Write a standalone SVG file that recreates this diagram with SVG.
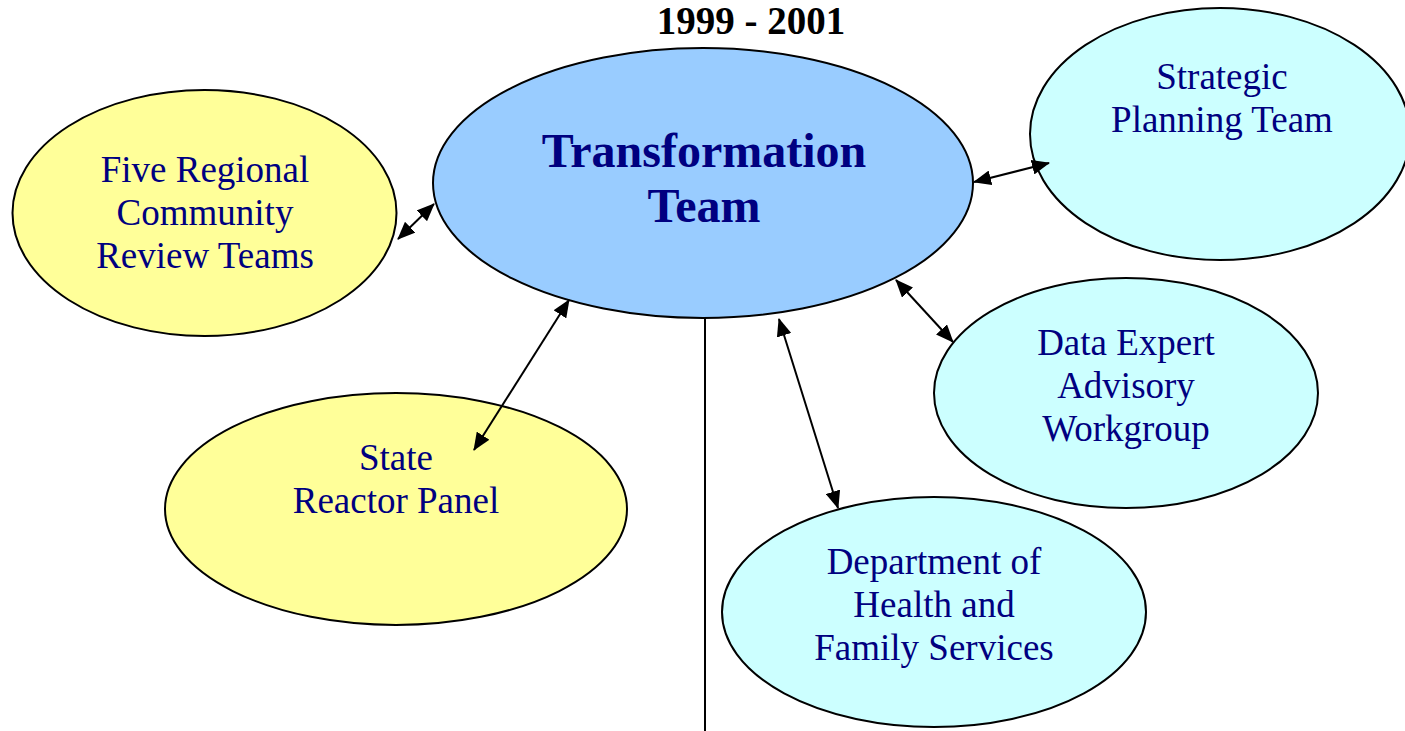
<svg xmlns="http://www.w3.org/2000/svg" width="1405" height="731" viewBox="0 0 1405 731">
<style>
.n{stroke:#000;stroke-width:2}
.y{fill:#FFFF99}.b{fill:#99CCFF}.c{fill:#CCFFFF}
.t{font-family:"Liberation Serif","Times New Roman",serif;font-size:37px;fill:#000080;text-anchor:middle}
.big{font-size:48px;font-weight:bold}
.h{font-family:"Liberation Serif","Times New Roman",serif;font-size:39px;font-weight:bold;fill:#000;text-anchor:middle}
.e{stroke:#000;stroke-width:2;fill:none;marker-start:url(#a);marker-end:url(#a)}
</style>
<defs>
<marker id="a" markerUnits="userSpaceOnUse" markerWidth="18" markerHeight="15" viewBox="0 0 18 15" refX="17" refY="7.5" orient="auto-start-reverse">
<path d="M0,0 L18,7.5 L0,15 Z" fill="#000"/>
</marker>
</defs>
<rect width="1405" height="731" fill="#fff"/>
<text class="h" x="751" y="34">1999 - 2001</text>
<g id="transformation">
<ellipse class="n b" cx="703" cy="183" rx="270" ry="135"/>
<text class="t big" x="704" y="167">Transformation</text>
<text class="t big" x="704" y="222">Team</text>
</g>
<g id="five-regional">
<ellipse class="n y" cx="204.5" cy="213" rx="192" ry="123"/>
<text class="t" x="205" y="182">Five Regional</text>
<text class="t" x="205" y="225">Community</text>
<text class="t" x="205" y="268">Review Teams</text>
</g>
<g id="strategic">
<ellipse class="n c" cx="1220" cy="134" rx="190" ry="126"/>
<text class="t" x="1222" y="89">Strategic</text>
<text class="t" x="1222" y="132">Planning Team</text>
</g>
<g id="data-expert">
<ellipse class="n c" cx="1126" cy="393" rx="192" ry="115"/>
<text class="t" x="1126" y="355">Data Expert</text>
<text class="t" x="1126" y="398">Advisory</text>
<text class="t" x="1126" y="441">Workgroup</text>
</g>
<g id="state-reactor">
<ellipse class="n y" cx="396" cy="509" rx="231" ry="116"/>
<text class="t" x="396" y="470">State</text>
<text class="t" x="396" y="513">Reactor Panel</text>
</g>
<g id="dhfs">
<ellipse class="n c" cx="934" cy="612" rx="212" ry="115"/>
<text class="t" x="934" y="574">Department of</text>
<text class="t" x="934" y="617">Health and</text>
<text class="t" x="934" y="660">Family Services</text>
</g>
<g id="connectors">
<line class="e" x1="398" y1="239" x2="434" y2="204"/>
<line class="e" x1="974" y1="182" x2="1049" y2="163"/>
<line class="e" x1="569" y1="300" x2="474" y2="450"/>
<line class="e" x1="779" y1="319" x2="838" y2="508"/>
<line class="e" x1="896" y1="280" x2="953" y2="342"/>
<line x1="705" y1="318" x2="705" y2="731" stroke="#000" stroke-width="2"/>
</g>
</svg>
